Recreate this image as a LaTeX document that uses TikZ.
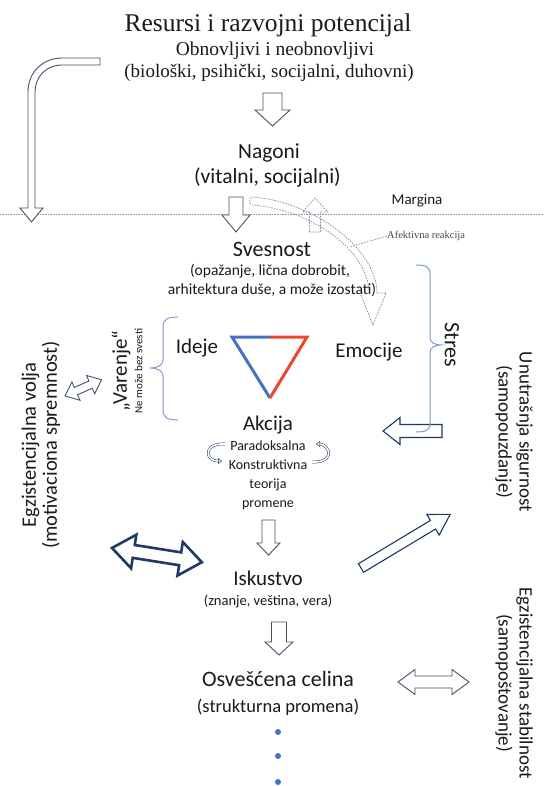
\documentclass[tikz,border=0pt]{standalone}
\usepackage{fontspec}
\setmainfont{Carlito}
\newfontfamily\seriffont{Liberation Serif}
\usetikzlibrary{arrows.meta}
\definecolor{txt}{HTML}{1A1A1A}
\definecolor{slate}{HTML}{44546A}
\definecolor{navy}{HTML}{1F3864}
\definecolor{bracec}{HTML}{7F9CC4}
\definecolor{dashc}{HTML}{7C8CA4}
\definecolor{triblue}{HTML}{4472C4}
\definecolor{trired}{HTML}{E8482C}
\definecolor{dotc}{HTML}{4472C4}
% block arrow: style, origin (tail centre), angle, length, head length, shaft width, head width
\newcommand{\barrow}[7]{\draw[#1,shift={#2},rotate=#3] (0,{-(#6)/2}) -- ({#4-#5},{-(#6)/2}) -- ({#4-#5},{-(#7)/2}) -- (#4,0) -- ({#4-#5},{(#7)/2}) -- ({#4-#5},{(#6)/2}) -- (0,{(#6)/2}) -- cycle;}
% double block arrow: style, origin (left tip), angle, length, head length, shaft width, head width
\newcommand{\dbarrow}[7]{\draw[#1,shift={#2},rotate=#3] (0,0) -- (#5,{-(#7)/2}) -- (#5,{-(#6)/2}) -- ({#4-#5},{-(#6)/2}) -- ({#4-#5},{-(#7)/2}) -- (#4,0) -- ({#4-#5},{(#7)/2}) -- ({#4-#5},{(#6)/2}) -- (#5,{(#6)/2}) -- (#5,{(#7)/2}) -- cycle;}
\tikzset{
  lbl/.style={text=txt, inner sep=0pt, anchor=base},
  rlbl/.style={text=txt, inner sep=0pt, anchor=center},
  hollow/.style={draw=slate, line width=0.9pt, fill=white, line join=miter},
  navyarrow/.style={draw=navy, line width=1.1pt, fill=white, line join=miter},
  bigarrow/.style={draw=navy, line width=2.6pt, fill=white, line join=miter},
  dashline/.style={draw=dashc, line width=0.7pt, dash pattern=on 1.6pt off 1.2pt},
  bracestyle/.style={draw=bracec, line width=1pt},
  curl/.style={draw=navy, line width=0.5pt, double=white, double distance=1.6pt},
}
\begin{document}
\begin{tikzpicture}[x=1pt,y=-1pt]
\useasboundingbox (0,0) rectangle (543,786);
\fill[white] (0,0) rectangle (543,786);

% margin line
\draw[draw=gray!80, line width=0.8pt, dash pattern=on 0.8pt off 0.8pt] (0,214) coordinate (mL) -- (543,214) coordinate (mR);

% top texts
\node[lbl, font=\seriffont\fontsize{25.5}{28}\selectfont] (title) at (268,31.5) {Resursi i razvojni potencijal};
\node[lbl, font=\seriffont\fontsize{19.5}{22}\selectfont] (obn) at (275,56) {Obnovljivi i neobnovljivi};
\node[lbl, font=\seriffont\fontsize{19}{22}\selectfont] (bio) at (269,78) {(biološki, psihički, socijalni, duhovni)};

\node[lbl, font=\fontsize{21.5}{24}\selectfont] (nag) at (269,159) {Nagoni};
\node[lbl, font=\fontsize{21.5}{24}\selectfont] (nag2) at (267.5,184) {(vitalni, socijalni)};
\node[lbl, font=\fontsize{15}{17}\selectfont] (marg) at (417,205) {Margina};

\node[lbl, font=\fontsize{22}{25}\selectfont] (svest) at (272,256) {Svesnost};
\node[lbl, font=\fontsize{15.5}{18}\selectfont] (svest2) at (270,275) {(opažanje, lična dobrobit,};
\node[lbl, font=\fontsize{15.5}{18}\selectfont] (svest3) at (272,294) {arhitektura duše, a može izostati)};

\node[lbl, font=\fontsize{21}{24}\selectfont] (ideje) at (197,353) {Ideje};
\node[lbl, font=\fontsize{21}{24}\selectfont] (emoc) at (369,357) {Emocije};
\node[lbl, font=\fontsize{21}{24}\selectfont] (akc) at (268,430) {Akcija};
\node[lbl, font=\fontsize{14}{16}\selectfont] (p1) at (268,450) {Paradoksalna};
\node[lbl, font=\fontsize{14}{16}\selectfont] (p2) at (268,469) {Konstruktivna};
\node[lbl, font=\fontsize{14}{16}\selectfont] (p3) at (268,488) {teorija};
\node[lbl, font=\fontsize{14}{16}\selectfont] (p4) at (268,507) {promene};

\node[lbl, font=\fontsize{21}{24}\selectfont] (isk) at (268,585) {Iskustvo};
\node[lbl, font=\fontsize{14.5}{17}\selectfont] (isk2) at (268,605) {(znanje, veština, vera)};
\node[lbl, font=\fontsize{22}{25}\selectfont] (osv) at (278,686) {Osvešćena celina};
\node[lbl, font=\fontsize{18.5}{21}\selectfont] (osv2) at (278,712) {(strukturna promena)};

% rotated texts
\node[rlbl, rotate=90, font=\fontsize{21}{24}\selectfont] (var) at (121,371) {„Varenje“};
\node[rlbl, rotate=90, font=\fontsize{11}{13}\selectfont] (var2) at (138.5,371) {Ne može bez svesti};
\node[rlbl, rotate=90, align=center, font=\fontsize{20.5}{21}\selectfont] (volja) at (41,445) {Egzistencijalna volja\\(motivaciona spremnost)};
\node[rlbl, rotate=-90, font=\fontsize{22}{24}\selectfont] (stres) at (452,345) {Stres};
\node[rlbl, rotate=-90, align=center, font=\fontsize{19}{21}\selectfont] (sig) at (514,432) {Unutrašnja sigurnost\\(samopouzdanje)};
\node[rlbl, rotate=-90, align=center, font=\fontsize{19}{21}\selectfont] (stab) at (514,683) {Egzistencijalna stabilnost\\(samopoštovanje)};

\node[rlbl, anchor=west, font=\seriffont\fontsize{10.5}{12}\selectfont, text=txt!80] (afek) at (387,236) {Afektivna reakcija};

% triangle
\draw[triblue, line width=3pt, line join=miter] (270,398) coordinate (tB) -- (232,337) coordinate (tL) -- (270,337) coordinate (tM);
\draw[trired, line width=3pt, line join=miter] (tM) -- (307,337) coordinate (tR) -- (tB);

% bent arrow top-left
\draw[hollow] (100,58) -- (62,58) .. controls (43,58) and (28,72) .. (28,92) -- (28,208) -- (20,208) -- (31.5,222) -- (43,208) -- (35,208) -- (35,92) .. controls (35,77) and (46,65) .. (62,65) -- (100,65) -- cycle;

% straight hollow arrows
\barrow{hollow}{(272.5,93)}{-90}{33}{16}{19}{35}
\barrow{hollow}{(236,197)}{-90}{35}{17}{14}{28}
\barrow{hollow}{(268.5,520)}{-90}{35}{12}{13}{23}
\barrow{hollow}{(279,622)}{-90}{33}{13}{15}{28}
\barrow{navyarrow}{(442,431)}{180}{59}{17}{13}{27}
\barrow{navyarrow}{(361,568)}{31}{104}{20}{10}{24}

% double arrows
\dbarrow{hollow}{(65,396)}{24}{40}{12}{8}{20}
\dbarrow{bigarrow}{(112,548)}{-9}{91}{22}{13}{34}
\dbarrow{hollow}{(398,682)}{0}{71}{17}{12}{25}

% affective reaction: dashed curved block arrow and dashed up arrow
\draw[dashline] (377,293) .. controls (377,249) and (313,201) .. (252,197)
  .. controls (249,197) and (249,205) .. (252,205)
  .. controls (311,209) and (369,251) .. (369,293);
\draw[dashline] (369,293) -- (360,293) -- (373,325) -- (386,293) -- (377,293);
\barrow{dashline}{(315,232)}{90}{34}{14}{11}{25}
\draw[dashline] (afek.west) -- (350,247);

% braces
\draw[bracestyle] (178,317) .. controls (168,317) and (163,319) .. (163,327) -- (163,360) .. controls (163,366) and (156,368) .. (150,368) .. controls (156,368) and (163,370) .. (163,376) -- (163,410) .. controls (163,418) and (168,420) .. (178,420);
\draw[bracestyle] (416,265) .. controls (426,265) and (430,267) .. (430,274) -- (430,338) .. controls (430,343) and (436,345) .. (441,345) .. controls (436,345) and (430,347) .. (430,352) -- (430,424) .. controls (430,430) and (426,432) .. (416,432);

% curl arrows around Paradoksalna
\draw[curl, -{Triangle[open, length=4pt, width=6pt]}] (225,444) .. controls (212,443) and (206,450) .. (209,456) .. controls (211,460) and (215,461) .. (222,461);
\draw[curl, -{Triangle[open, length=4pt, width=6pt]}] (312,462) .. controls (325,463) and (331,456) .. (328,450) .. controls (326,446) and (322,444) .. (316,444);

% dots
\fill[dotc] (278,732) circle (3);
\fill[dotc] (278,756) circle (3);
\fill[dotc] (278,782) circle (3);
\end{tikzpicture}
\end{document}
